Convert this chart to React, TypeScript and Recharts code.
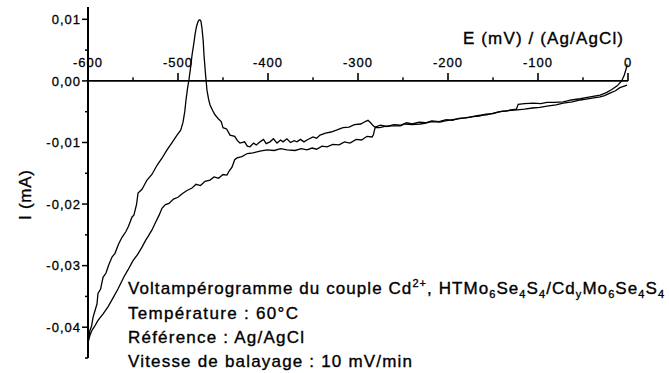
import React from 'react';
import { LineChart, Line, XAxis, YAxis, ReferenceLine, ReferenceDot } from 'recharts';

// ---- data ----
const xMajorTicks = [-600, -500, -400, -300, -200, -100, 0];
const xMinorTicks = [-550, -450, -350, -250, -150, -50];
const yMajorTicks = [0.01, 0, -0.01, -0.02, -0.03, -0.04];
const yMinorTicks = [0.005, -0.005, -0.015, -0.025, -0.035, -0.045];

// cathodic sweep: 0 mV -> -600 mV  [E (mV), I (mA)]
const cathodicSweep: [number, number][] = [
  [-1, -0.0007], [-5, -0.0009], [-9, -0.0011], [-14, -0.0016], [-20, -0.002], [-26, -0.0024],
  [-31, -0.0026], [-40, -0.0028], [-48, -0.003], [-53, -0.0031], [-62, -0.0034], [-72, -0.0036],
  [-80, -0.0039], [-90, -0.0041], [-98, -0.0043], [-106, -0.0044], [-115, -0.0046], [-123, -0.0047],
  [-130, -0.0048], [-139, -0.0049], [-148, -0.0052], [-157, -0.0055], [-166, -0.0056], [-176, -0.0059],
  [-185, -0.0061], [-195, -0.0063], [-203, -0.0065], [-209, -0.0067], [-218, -0.0066], [-226, -0.0069],
  [-231, -0.007], [-240, -0.0071], [-248, -0.007], [-253, -0.0073], [-262, -0.0073], [-270, -0.0074],
  [-276, -0.0076], [-281, -0.0076], [-283, -0.0088], [-284.4, -0.0091], [-290, -0.009], [-296, -0.0096],
  [-302, -0.0095], [-308.9, -0.0101], [-315, -0.0099], [-321, -0.0104], [-328, -0.0103], [-334.4, -0.0107],
  [-340, -0.0106], [-346, -0.0111], [-351, -0.0109], [-356.7, -0.0112], [-363, -0.011], [-370, -0.0113],
  [-378.9, -0.0112], [-386, -0.011], [-393, -0.0113], [-401, -0.0112], [-409, -0.0114], [-416.7, -0.0117],
  [-423, -0.0118], [-429, -0.0123], [-434.4, -0.0125], [-437, -0.0128], [-440, -0.014], [-443, -0.0146],
  [-445.6, -0.0153], [-450, -0.0152], [-455, -0.0158], [-460, -0.0156], [-464.4, -0.0161], [-470, -0.0163],
  [-475, -0.017], [-480, -0.0168], [-484.4, -0.0174], [-490, -0.0178], [-495, -0.0183], [-500, -0.0189],
  [-505, -0.0192], [-510, -0.0199], [-514, -0.0201], [-517.8, -0.0207], [-521, -0.0218], [-525, -0.023],
  [-528.9, -0.0242], [-533, -0.0252], [-536, -0.0259], [-540, -0.027], [-545, -0.0282], [-550, -0.0292],
  [-555.6, -0.0307], [-560, -0.0318], [-566.7, -0.0338], [-572, -0.0352], [-577.8, -0.0367], [-583, -0.0378],
  [-588.9, -0.0389], [-592, -0.0397], [-595.6, -0.0405], [-598, -0.0414], [-600, -0.0424],
];

// anodic sweep: -600 mV -> 0 mV  [E (mV), I (mA)]
const anodicSweep: [number, number][] = [
  [-600, -0.0429], [-599, -0.0415], [-597.8, -0.0405], [-596, -0.0398], [-594.4, -0.0384], [-592, -0.0372],
  [-590, -0.0362], [-588.9, -0.0345], [-586, -0.0338], [-583.3, -0.0319], [-580, -0.0312], [-577, -0.0299],
  [-573.3, -0.0286], [-570, -0.028], [-566, -0.0265], [-562.2, -0.0254], [-558, -0.0245], [-555, -0.0236],
  [-551.1, -0.0221], [-549, -0.0218], [-546, -0.02], [-544.4, -0.0182], [-540, -0.0176], [-534.4, -0.0161],
  [-529, -0.0152], [-523.3, -0.0137], [-518, -0.0126], [-512.2, -0.0112], [-507, -0.0101], [-501.1, -0.0088],
  [-497, -0.008], [-494.4, -0.0067], [-492.5, -0.005], [-491.1, -0.0031], [-489.5, -0.0013], [-487.8, 0.0002],
  [-486, 0.0022], [-484.4, 0.0042], [-482.5, 0.006], [-481.1, 0.0075], [-479.5, 0.0088], [-477.8, 0.0096],
  [-476.5, 0.0099], [-475.6, 0.0099], [-474.5, 0.0097], [-473.3, 0.0085], [-472, 0.0065], [-471.1, 0.0042],
  [-469.5, 0.0012], [-467.8, -0.0015], [-466, -0.003], [-464.4, -0.0039], [-461.5, -0.0048], [-458.9, -0.0055],
  [-455, -0.0062], [-452, -0.0066], [-450, -0.0076], [-446, -0.0078], [-442.2, -0.0088], [-437, -0.009],
  [-434, -0.0097], [-431.1, -0.0101], [-426, -0.0099], [-423, -0.0106], [-420, -0.0107], [-416, -0.0101],
  [-413, -0.0104], [-408.9, -0.0099], [-405, -0.0095], [-402, -0.0102], [-397.8, -0.0099], [-394, -0.0094],
  [-390, -0.0101], [-386, -0.0096], [-383.3, -0.0099], [-379, -0.0094], [-375, -0.01], [-371, -0.0097],
  [-367.8, -0.0099], [-364, -0.0095], [-360, -0.0099], [-356.7, -0.0096], [-350, -0.0091], [-346, -0.0093],
  [-342.2, -0.0088], [-336, -0.0085], [-330, -0.0083], [-324, -0.008], [-316.7, -0.0076], [-310, -0.0075],
  [-304, -0.0071], [-297, -0.007], [-292, -0.0066], [-288.9, -0.0064], [-286, -0.0068], [-283, -0.0073],
  [-281, -0.0075], [-275, -0.0072], [-268, -0.0074], [-260, -0.0071], [-253, -0.0072], [-246, -0.0068],
  [-240, -0.007], [-232, -0.0067], [-225, -0.0068], [-218, -0.0065], [-210, -0.0066], [-202, -0.0063],
  [-195, -0.0064], [-188, -0.0061], [-180, -0.006], [-172, -0.0058], [-165, -0.0057], [-158, -0.0054],
  [-150, -0.0053], [-143, -0.005], [-136, -0.0049], [-130, -0.0047], [-124, -0.0046], [-122, -0.0038],
  [-115, -0.0037], [-105, -0.0036], [-97, -0.0037], [-90, -0.0035], [-82, -0.0035], [-72, -0.0034],
  [-63, -0.0031], [-53, -0.0029], [-42, -0.0026], [-31, -0.0023], [-24, -0.0019], [-18, -0.0014],
  [-12, -0.0008], [-7, 0.0], [-4, 0.001], [-2, 0.002], [-1, 0.0027],
];

const xAxisTitle = 'E (mV) / (Ag/AgCl)';
const yAxisTitle = 'I (mA)';
const noteTemperature = 'Température : 60°C';
const noteReference = 'Référence : Ag/AgCl';
const noteSpeed = 'Vitesse de balayage : 10 mV/min';

// ---- layout ----
const W = 669;
const H = 373;
const margin = { top: 7, right: 41, bottom: 15, left: 28 };
const yAxisWidth = 60;
const FONT = '"Liberation Sans", Arial, Helvetica, sans-serif';
const majorTickLen = 0.0013;
const minorTickLen = 0.0006;
const textStroke = { stroke: '#000', strokeWidth: 0.35 };

const toPoints = (arr: [number, number][]) => arr.map(([e, i]) => ({ e, i }));
const cathodicData = toPoints(cathodicSweep);
const anodicData = toPoints(anodicSweep);

const fmtY = (v: number) => {
  const s = Math.abs(v).toFixed(2).replace('.', ',');
  return v < -1e-9 ? '-' + s : s;
};
const fmtX = (v: number) => String(v);

const YTick = (props: any) => {
  const { x, y, payload } = props;
  const v = payload.value as number;
  const major = yMajorTicks.some((m) => Math.abs(m - v) < 1e-9);
  return (
    <g>
      <line x1={x - (major ? 6 : 3)} x2={x} y1={y} y2={y} stroke="#000" strokeWidth={1.5} />
      {major && (
        <text
          x={x - 7}
          y={y}
          dy="0.36em"
          textAnchor="end"
          fontSize={13}
          letterSpacing={1}
          fill="#000"
          stroke="#000"
          strokeWidth={0.3}
          fontFamily={FONT}
        >
          {fmtY(v)}
        </text>
      )}
    </g>
  );
};

const allYTicks = [...yMajorTicks, ...yMinorTicks].sort((a, b) => b - a);

export default function App() {
  const sub = { fontSize: 11 };
  return (
    <div style={{ position: 'absolute', left: 0, top: 0, width: W, height: H, background: '#fff', fontFamily: FONT }}>
      <LineChart width={W} height={H} margin={margin}>
        <XAxis type="number" dataKey="e" domain={[-600, 0]} hide allowDataOverflow />
        <YAxis
          type="number"
          domain={[-0.045, 0.012]}
          ticks={allYTicks}
          interval={0}
          width={yAxisWidth}
          tickSize={0}
          tickMargin={0}
          tickLine={false}
          tick={(p: any) => <YTick {...p} />}
          axisLine={{ stroke: '#000', strokeWidth: 2 }}
          allowDataOverflow
        />
        <ReferenceLine y={0} stroke="#000" strokeWidth={1.6} />
        {xMajorTicks.map((v) => (
          <ReferenceLine
            key={'M' + v}
            segment={[{ x: v, y: 0 }, { x: v, y: majorTickLen }]}
            stroke="#000"
            strokeWidth={1.6}
            ifOverflow="visible"
          />
        ))}
        {xMinorTicks.map((v) => (
          <ReferenceLine
            key={'m' + v}
            segment={[{ x: v, y: 0 }, { x: v, y: minorTickLen }]}
            stroke="#000"
            strokeWidth={1.4}
            ifOverflow="visible"
          />
        ))}
        {xMajorTicks.map((v) => (
          <ReferenceDot
            key={'L' + v}
            x={v}
            y={0}
            r={0}
            fill="none"
            stroke="none"
            ifOverflow="visible"
            label={{ value: fmtX(v), position: 'top', offset: 14, fontSize: 13, fill: '#000', stroke: '#000', strokeWidth: 0.3, letterSpacing: 1 } as any}
          />
        ))}
        <Line
          data={cathodicData}
          dataKey="i"
          type="linear"
          dot={false}
          stroke="#000"
          strokeWidth={1.3}
          isAnimationActive={false}
        />
        <Line
          data={anodicData}
          dataKey="i"
          type="linear"
          dot={false}
          stroke="#000"
          strokeWidth={1.3}
          isAnimationActive={false}
        />
      </LineChart>
      <svg
        width={W}
        height={H}
        style={{ position: 'absolute', left: 0, top: 0, pointerEvents: 'none' }}
        fontFamily={FONT}
      >
        <text x={463} y={44} fontSize={17} fill="#000" {...textStroke} textLength={160} lengthAdjust="spacing">
          {xAxisTitle}
        </text>
        <text
          x={0}
          y={0}
          transform="translate(31,195) rotate(-90)"
          textAnchor="middle"
          fontSize={17}
          fill="#000"
          {...textStroke}
          textLength={50}
          lengthAdjust="spacing"
        >
          {yAxisTitle}
        </text>
        <text x={128} y={294} fontSize={17} fill="#000" {...textStroke} textLength={536} lengthAdjust="spacing">
          Voltampérogramme du couple Cd
          <tspan dy={-7} style={sub}>2+</tspan>
          <tspan dy={7}>, HTMo</tspan>
          <tspan dy={4} style={sub}>6</tspan>
          <tspan dy={-4}>Se</tspan>
          <tspan dy={4} style={sub}>4</tspan>
          <tspan dy={-4}>S</tspan>
          <tspan dy={4} style={sub}>4</tspan>
          <tspan dy={-4}>/Cd</tspan>
          <tspan dy={4} style={sub}>y</tspan>
          <tspan dy={-4}>Mo</tspan>
          <tspan dy={4} style={sub}>6</tspan>
          <tspan dy={-4}>Se</tspan>
          <tspan dy={4} style={sub}>4</tspan>
          <tspan dy={-4}>S</tspan>
          <tspan dy={4} style={sub}>4</tspan>
        </text>
        <text x={128} y={319} fontSize={17} fill="#000" {...textStroke} textLength={170} lengthAdjust="spacing">
          {noteTemperature}
        </text>
        <text x={128} y={343} fontSize={17} fill="#000" {...textStroke} textLength={176} lengthAdjust="spacing">
          {noteReference}
        </text>
        <text x={128} y={367} fontSize={17} fill="#000" {...textStroke} textLength={284} lengthAdjust="spacing">
          {noteSpeed}
        </text>
      </svg>
    </div>
  );
}
